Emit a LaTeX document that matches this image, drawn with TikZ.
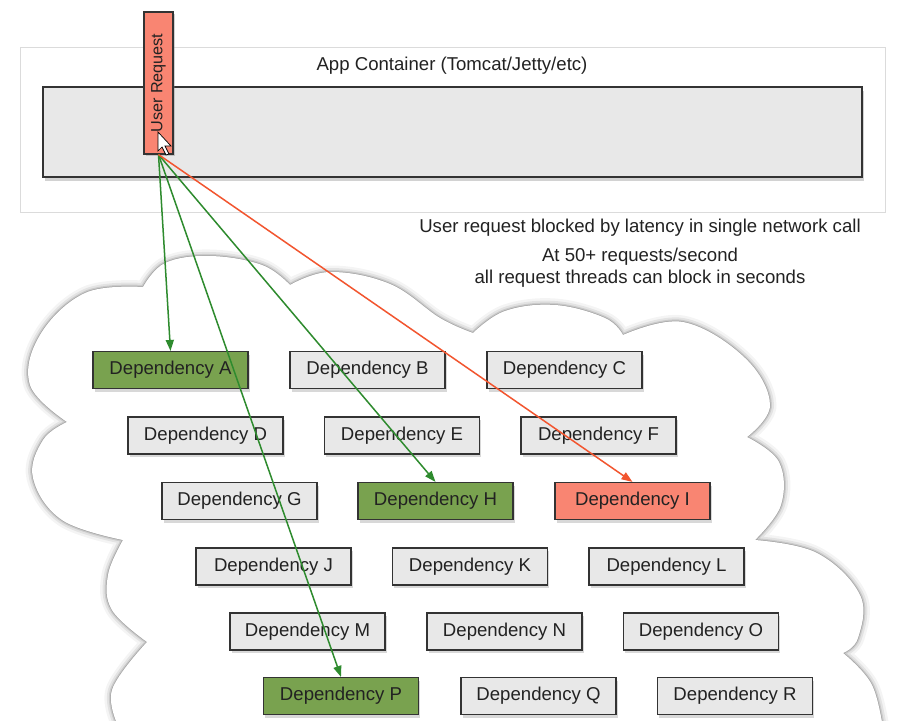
\documentclass[tikz,border=0pt]{standalone}
\usepackage{fontspec}
\setmainfont{Liberation Sans}
\usetikzlibrary{shadows,arrows.meta}
\definecolor{boxgray}{HTML}{E8E8E8}
\definecolor{depgreen}{HTML}{79A24F}
\definecolor{depred}{HTML}{F98572}
\definecolor{linegreen}{HTML}{2E8B2E}
\definecolor{linered}{HTML}{F2552F}
\definecolor{edgec}{HTML}{333333}
\definecolor{txtc}{HTML}{222222}
\tikzset{
  dep/.style={draw=edgec, line width=1.1pt, minimum width=155pt, minimum height=37pt,
    inner sep=0pt, font=\fontsize{18.6}{20}\selectfont, text=txtc,
    drop shadow={shadow xshift=1.5pt, shadow yshift=-3pt, opacity=0.3}},
  depgrey/.style={dep, fill=boxgray},
  depok/.style={dep, fill=depgreen},
  depbad/.style={dep, fill=depred},
  okarrow/.style={draw=linegreen, line width=1.5pt, -{Triangle[length=11pt,width=8pt]}},
  badarrow/.style={draw=linered, line width=1.5pt, -{Triangle[length=11pt,width=8pt]}},
  plaintext/.style={font=\fontsize{18.6}{22}\selectfont, text=txtc, inner sep=0pt},
  bump/.style={smooth, tension=0.65}
}
\begin{document}
\begin{tikzpicture}[x=1pt, y=-1pt]
\useasboundingbox (0,0) rectangle (899,720);
\fill[white] (0,0) rectangle (899,720);

% container
\node[draw=black!14, line width=0.8pt, minimum width=865pt, minimum height=165pt, inner sep=0pt] (cont) at (452.5,129.5) {};
\node[plaintext] (title) at (452,66) {App Container (Tomcat/Jetty/etc)};
\node[draw=edgec, fill=boxgray, line width=1.2pt, minimum width=819pt, minimum height=90pt, inner sep=0pt,
  drop shadow={shadow xshift=2pt, shadow yshift=-4pt, opacity=0.35}] (app) at (452.5,132) {};

% notes
\node[plaintext] (note1) at (640,228) {User request blocked by latency in single network call};
\node[plaintext, align=center] (note2) at (640,268) {At 50+ requests/second\\all request threads can block in seconds};

% cloud
\path[preaction={draw=black, opacity=0.045, line width=13pt},
      preaction={draw=black, opacity=0.065, line width=8pt},
      preaction={draw=black, opacity=0.1, line width=4pt},
      preaction={draw=black, opacity=0.18, line width=1.5pt},
      fill=white]
  (120,730)
  -- plot[bump] coordinates {(120,730) (112,690) (147,642)}
  -- plot[bump] coordinates {(147,642) (112,610) (108,575) (123,540)}
  -- plot[bump] coordinates {(123,540) (62,520) (33,478) (43,440) (67,422)}
  -- plot[bump] coordinates {(67,422) (30,385) (40,335) (85,293) (143,287)}
  -- plot[bump] coordinates {(143,287) (165,263) (210,256) (262,265) (290,285)}
  -- plot[bump] coordinates {(290,285) (330,272) (390,284) (440,318) (473,333)}
  -- plot[bump] coordinates {(473,333) (505,311) (555,305) (605,318) (623,335)}
  -- plot[bump] coordinates {(623,335) (683,322) (745,358) (770,405) (747,437)}
  -- plot[bump] coordinates {(747,437) (779,462) (781,505) (755,540)}
  -- plot[bump] coordinates {(755,540) (817,553) (860,595) (858,638) (843,653)}
  -- plot[bump] coordinates {(843,653) (872,685) (884,735)}
  -- (884,745) -- (120,745) -- cycle;

% dependencies
\node[depok]   (A) at (170.5,370) {Dependency A};
\node[depgrey] (B) at (367.5,370) {Dependency B};
\node[depgrey] (C) at (564.5,370) {Dependency C};
\node[depgrey] (D) at (205.5,435.5) {Dependency D};
\node[depgrey] (Ed) at (402,435.5) {Dependency E};
\node[depgrey] (F) at (598.5,435.5) {Dependency F};
\node[depgrey] (G) at (239.5,501) {Dependency G};
\node[depok]   (H) at (435.5,501) {Dependency H};
\node[depbad]  (I) at (632.5,501) {Dependency I};
\node[depgrey] (J) at (273.5,566.5) {Dependency J};
\node[depgrey] (K) at (470,566.5) {Dependency K};
\node[depgrey] (L) at (666.5,566.5) {Dependency L};
\node[depgrey] (M) at (307.5,631.5) {Dependency M};
\node[depgrey] (N) at (504.5,631.5) {Dependency N};
\node[depgrey] (O) at (701,631.5) {Dependency O};
\node[depok]   (P) at (341,696) {Dependency P};
\node[depgrey] (Q) at (538.5,696) {Dependency Q};
\node[depgrey] (R) at (735,696) {Dependency R};

% user request bar
\node[draw=edgec, fill=depred, line width=1.1pt, rotate=90, minimum width=142pt, minimum height=29pt,
  inner sep=0pt, font=\fontsize{16.2}{18}\selectfont, text=txtc,
  drop shadow={shadow xshift=1.5pt, shadow yshift=-2pt, opacity=0.35}] (ur) at (158.5,83) {User Request};

% arrows
\draw[okarrow] (ur.west) -- (A.north);
\draw[okarrow] (ur.west) -- (P.north);
\draw[okarrow] (ur.west) -- (H.north);
\draw[badarrow] (ur.west) -- (I.north);

% cursor
\draw[fill=white, draw=black, line width=0.7pt, line join=miter]
  (158,132) -- (158,151) -- (162,147) -- (166,155) -- (169,154) -- (165,146) -- (171,146) -- cycle;
\end{tikzpicture}
\end{document}
